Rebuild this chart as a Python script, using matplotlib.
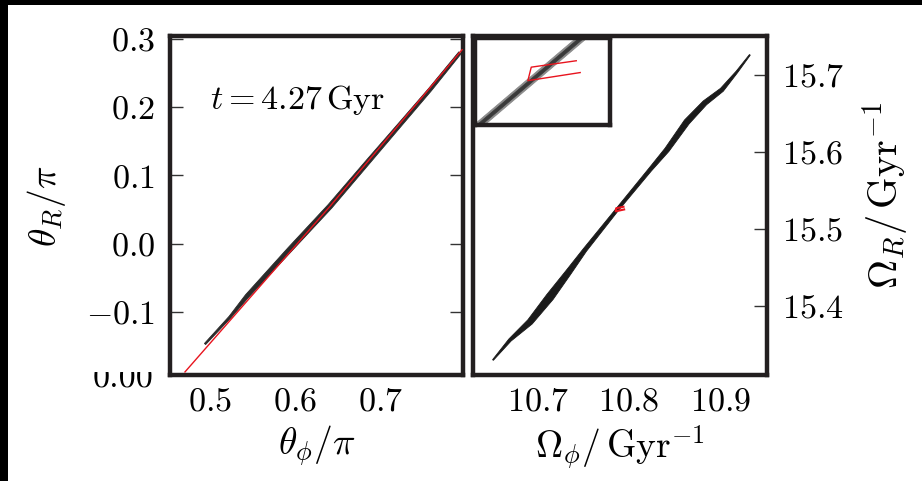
import numpy as np
import matplotlib
matplotlib.use('Agg')
import matplotlib.pyplot as plt
from matplotlib.patches import Rectangle

plt.rcParams['font.family'] = 'serif'
plt.rcParams['font.serif'] = ['cmr10', 'DejaVu Serif']
plt.rcParams['mathtext.fontset'] = 'cm'
plt.rcParams['axes.formatter.use_mathtext'] = True

# angles: stream of particles and the orbit track
ang_stream_x = [0.4941, 0.5235, 0.5435, 0.5941, 0.6411, 0.6882, 0.7235, 0.7588, 0.7941]
ang_stream_y = [-0.1467, -0.1073, -0.0766, -0.0080, 0.0548, 0.1234, 0.1745, 0.2256, 0.2796]
ang_stream_w = [0.8, 1.2, 2.0, 2.5, 2.5, 2.3, 2.0, 1.8, 1.5]
ang_track_x = [0.4705, 0.6411, 0.7965]
ang_track_y = [-0.1876, 0.0548, 0.2840]

# frequencies: stream of particles
freq_stream_x = [10.6509, 10.6696, 10.6915, 10.7134, 10.7332, 10.7518, 10.7869,
                 10.8231, 10.8417, 10.8636, 10.8834, 10.9020, 10.9185, 10.9327]
freq_stream_y = [15.3298, 15.3558, 15.3792, 15.4116, 15.4428, 15.4727, 15.5246,
                 15.5766, 15.6025, 15.6389, 15.6636, 15.6805, 15.7038, 15.7259]
freq_stream_w = [0.5, 1.5, 3.0, 4.0, 3.0, 2.0, 1.5, 1.8, 2.5, 3.0, 2.5, 2.0, 1.0, 0.5]

# frequencies of the progenitor orbit (zoomed in the inset)
orbit_x = [10.7941, 10.7861, 10.7855, 10.7948]
orbit_y = [15.5287, 15.5268, 15.5228, 15.5252]
inset_stream_x = [10.7752, 10.7773, 10.7951, 10.7965]
inset_stream_y = [15.5073, 15.5103, 15.5355, 15.5379]

left_xticks = [0.5, 0.6, 0.7]
left_yticks = [-0.1, 0.0, 0.1, 0.2, 0.3]
right_xticks = [10.7, 10.8, 10.9]
right_yticks = [15.4, 15.5, 15.6, 15.7]

W, H = 922, 481
frame = '#231f20'
tick_fs = 24.5
label_fs = 27


def px_axes(x0, y0, x1, y1):
    return [x0 / W, (H - y1) / H, (x1 - x0) / W, (y1 - y0) / H]


def band(ax, x, y, w, color, z=2):
    # polygon around the centre line, half-widths w given in pixels
    pts = ax.transData.transform(np.column_stack([x, y]))
    d = np.gradient(pts, axis=0)
    n = np.column_stack([-d[:, 1], d[:, 0]])
    n /= np.hypot(n[:, 0], n[:, 1])[:, None]
    hw = np.asarray(w, dtype=float)[:, None]
    poly = np.vstack([pts + n * hw, (pts - n * hw)[::-1]])
    poly = ax.transData.inverted().transform(poly)
    ax.fill(poly[:, 0], poly[:, 1], facecolor=color, edgecolor=color,
            lw=0.6, zorder=z)


def style(ax):
    for s in ax.spines.values():
        s.set_linewidth(3.2)
        s.set_color(frame)


fig = plt.figure(figsize=(W / 100, 4.812), dpi=100)
fig.add_artist(Rectangle((0, (H - 5) / H), 1, 5 / H, transform=fig.transFigure,
                         facecolor='black', edgecolor='none', zorder=-5))
fig.add_artist(Rectangle((0, 0), 8 / W, 1, transform=fig.transFigure,
                         facecolor='black', edgecolor='none', zorder=-5))

# left panel: angles
ax1 = fig.add_axes(px_axes(170, 36, 463, 375))
style(ax1)
ax1.set_xlim(0.4529, 0.7976)
ax1.set_ylim(-0.192, 0.3044)
band(ax1, ang_stream_x, ang_stream_y, ang_stream_w, '#2a2a2a')
ax1.plot(ang_track_x, ang_track_y, color='#e8141e', lw=1.0, zorder=3)
ax1.set_xticks(left_xticks)
ax1.set_yticks(left_yticks)
ax1.tick_params(axis='y', direction='in', left=True, right=True, length=9.5,
                width=1, color='#333333', pad=11, labelsize=tick_fs)
ax1.tick_params(axis='x', direction='in', bottom=True, top=False, length=1.5,
                width=1, color='#333333', pad=9, labelsize=tick_fs)
ax1.set_xlabel(r'$\theta_\phi/\pi$', fontsize=label_fs, labelpad=5)
ax1.set_ylabel(r'$\theta_R/\pi$', fontsize=label_fs, labelpad=13)
ax1.text(0.5, 0.211, r'$t = 4.27\,\mathrm{Gyr}$', fontsize=24.5,
         ha='left', va='center')

# stray label below the angle axis, its top hidden
fig.text(153 / W, (H - 387) / H, '0.00', fontsize=tick_fs, ha='right',
         va='baseline')
fig.add_artist(Rectangle((80 / W, (H - 372) / H), 85 / W, 14 / H,
                         transform=fig.transFigure, facecolor='white',
                         edgecolor='none', zorder=5))

# right panel: frequencies
ax2 = fig.add_axes(px_axes(473, 36, 767, 375))
style(ax2)
ax2.set_xlim(10.629, 10.9515)
ax2.set_ylim(15.3104, 15.7506)
band(ax2, freq_stream_x, freq_stream_y, freq_stream_w, '#1a1a1a')
ax2.plot(orbit_x, orbit_y, color='#e8141e', lw=1.5, zorder=3)
ax2.set_xticks(right_xticks)
ax2.set_yticks(right_yticks)
ax2.yaxis.tick_right()
ax2.yaxis.set_label_position('right')
ax2.tick_params(axis='y', direction='in', left=False, right=True, length=9.5,
                width=1, color='#333333', pad=11, labelsize=tick_fs)
ax2.tick_params(axis='x', direction='in', bottom=True, top=False, length=1.5,
                width=1, color='#333333', pad=9, labelsize=tick_fs)
ax2.set_xlabel(r'$\Omega_\phi/\,\mathrm{Gyr}^{-1}$', fontsize=label_fs, labelpad=5)
ax2.set_ylabel(r'$\Omega_R/\,\mathrm{Gyr}^{-1}$', fontsize=29)
ax2.yaxis.set_label_coords(1.318, 0.53)

# inset: zoom on the orbit
ax3 = fig.add_axes(px_axes(475, 38, 610, 125))
style(ax3)
ax3.set_xlim(10.7761, 10.8001)
ax3.set_ylim(15.5097, 15.5355)
band(ax3, inset_stream_x, inset_stream_y, [3.5, 3.5, 3.5, 3.5], '#8a8a8a')
band(ax3, inset_stream_x, inset_stream_y, [1.5, 1.5, 1.5, 1.5], '#3a3a3a')
ax3.plot(orbit_x, orbit_y, color='#e8141e', lw=1.0, zorder=3)
ax3.set_xticks([])
ax3.set_yticks([])

fig.savefig('out.png', dpi=100)
